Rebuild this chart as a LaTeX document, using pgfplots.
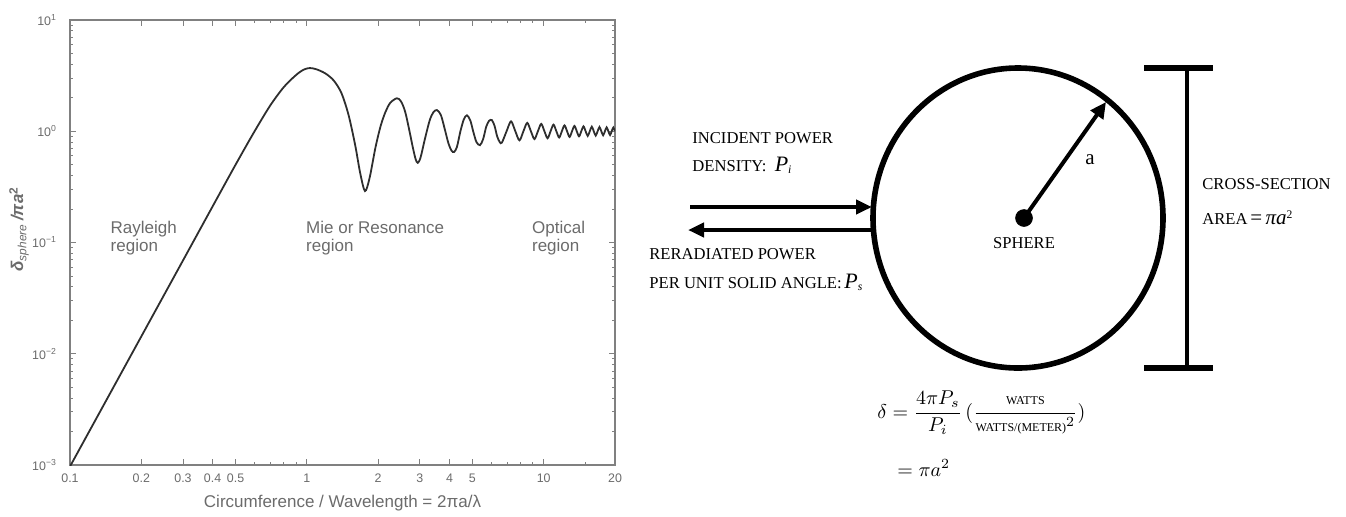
\documentclass[border=0pt]{standalone}
\usepackage{fontspec}
\usepackage{amsmath}
\usepackage{pgfplots}
\pgfplotsset{compat=1.18}
\usetikzlibrary{arrows.meta}
\setmainfont{Liberation Serif}
\newfontfamily\plotfont{Liberation Sans}
\definecolor{plotgray}{gray}{0.42}
\definecolor{framegray}{gray}{0.5}
\definecolor{curvegray}{gray}{0.18}

\pgfplotstableread{
ka sigma
0.1 0.00097
0.2 0.0143
0.3 0.069
0.4 0.211
0.5 0.50
0.6 0.99
0.7 1.70
0.8 2.5
0.9 3.2
0.97 3.58
1.03 3.7
1.1 3.6
1.2 3.3
1.3 2.85
1.4 2.2
1.5 1.4
1.6 0.75
1.68 0.42
1.76 0.29
1.84 0.38
1.95 0.72
2.05 1.12
2.15 1.5
2.25 1.8
2.4 1.98
2.5 1.85
2.6 1.5
2.7 1.05
2.8 0.72
2.88 0.56
2.94 0.52
3.02 0.58
3.15 0.85
3.3 1.25
3.42 1.48
3.54 1.55
3.68 1.4
3.82 1.05
3.96 0.78
4.08 0.67
4.18 0.65
4.3 0.72
4.45 1.0
4.6 1.28
4.74 1.39
4.9 1.25
5.05 0.98
5.2 0.8
5.38 0.75
5.55 0.85
5.72 1.1
5.88 1.24
6.04 1.26
6.2 1.12
6.36 0.9
6.52 0.8
6.66 0.79
6.97 1.0
7.28 1.227
7.59 1.0
7.90 0.828
8.21 1.0
8.52 1.19
8.83 1.0
9.14 0.85
9.45 1.0
9.76 1.165
10.07 1.0
10.38 0.865
10.69 1.0
11.0 1.146
11.31 1.0
11.62 0.879
11.93 1.0
12.24 1.13
12.55 1.0
12.86 0.889
13.17 1.0
13.48 1.117
13.79 1.0
14.10 0.90
14.41 1.0
14.72 1.107
15.03 1.0
15.34 0.908
15.65 1.0
15.96 1.099
16.27 1.0
16.58 0.914
16.89 1.0
17.2 1.091
17.51 1.0
17.82 0.92
18.13 1.0
18.44 1.084
18.75 1.0
19.06 0.925
19.37 1.0
19.68 1.079
20.0 1.0
}\rcsdata

\begin{document}
\begin{tikzpicture}
% ---------------- left: log-log plot ----------------
\begin{axis}[
  at={(35pt,25.5pt)}, anchor=south west,
  scale only axis, width=272.5pt, height=222.5pt,
  xmode=log, ymode=log,
  xmin=0.1, xmax=20, ymin=1e-3, ymax=10,
  axis line style={framegray, line width=0.6pt},
  every tick/.style={framegray, line width=0.45pt},
  major tick length=3pt, minor tick length=1.7pt,
  tick align=inside,
  xtick={0.1,0.2,0.3,0.4,0.5,1,2,3,4,5,10,20},
  xticklabels={0.1,0.2,0.3,0.4,0.5,1,2,3,4,5,10,20},
  minor xtick={0.6,0.7,0.8,0.9,6,7,8,9,15},
  ytick={0.001,0.01,0.1,1,10},
  yticklabels={10\textsuperscript{−3},10\textsuperscript{−2},10\textsuperscript{−1},10\textsuperscript{0},10\textsuperscript{1}},
  minor ytick={0.002,0.003,0.004,0.005,0.006,0.007,0.008,0.009,
               0.02,0.03,0.04,0.05,0.06,0.07,0.08,0.09,
               0.2,0.3,0.4,0.5,0.6,0.7,0.8,0.9,
               2,3,4,5,6,7,8,9},
  tick label style={font=\plotfont\fontsize{6.2}{7}\selectfont, text=plotgray},
  yticklabel style={xshift=-3pt},
  xticklabel style={yshift=-1pt},
  xlabel={Circumference / Wavelength = 2πa/λ},
  every axis x label/.style={at={(axis description cs:0.5,0)}, yshift=-19pt, anchor=center,
     font=\plotfont\fontsize{8.5}{10}\selectfont, text=plotgray},
  ylabel={\textbf{\textit{δ}}\textsubscript{\textit{sphere}}\,\textbf{\textit{/πa}}\textsuperscript{\textbf{2}}},
  every axis y label/.style={at={(axis description cs:0,0.53)}, xshift=-25.5pt, rotate=90, anchor=center,
     font=\plotfont\fontsize{8.5}{10}\selectfont, text=plotgray},
]
\addplot[curvegray, line width=0.9pt, smooth] table[x=ka, y=sigma] {\rcsdata};
\node[anchor=west, align=left, inner sep=0pt, font=\plotfont\fontsize{8.5}{9}\selectfont, text=plotgray]
  at (axis cs:0.148,0.11) {Rayleigh\\region};
\node[anchor=west, align=left, inner sep=0pt, font=\plotfont\fontsize{8.5}{9}\selectfont, text=plotgray]
  at (axis cs:0.99,0.11) {Mie or Resonance\\region};
\node[anchor=west, align=left, inner sep=0pt, font=\plotfont\fontsize{8.5}{9}\selectfont, text=plotgray]
  at (axis cs:8.9,0.11) {Optical\\region};
\end{axis}

% ---------------- right: sphere diagram (pixel units) ----------------
\begin{axis}[
  at={(0pt,0pt)}, anchor=south west,
  scale only axis, width=673pt, height=258pt,
  xmin=0, xmax=1346, ymin=0, ymax=516, y dir=reverse,
  hide axis, clip=false,
]
% sphere outline
\draw[black, line width=2.8pt] (axis cs:1018,218) ellipse [x radius=145, y radius=150];
% centre dot
\addplot[only marks, mark=*, mark size=4.2pt, black] coordinates {(1024,218)};
% radius arrow
\addplot[black, line width=2pt, -{Triangle[length=8pt,width=7.5pt]}] coordinates {(1024,218) (1106,102)};
\node[anchor=base, font=\fontsize{10.5}{12}\selectfont] at (axis cs:1090,164) {a};
\node[anchor=base, font=\fontsize{8.3}{10}\selectfont] at (axis cs:1024,248) {SPHERE};
% incident / reradiated arrows
\addplot[black, line width=2pt, -{Triangle[length=8pt,width=7pt]}] coordinates {(690,207) (872,207)};
\addplot[black, line width=2pt, -{Triangle[length=8pt,width=7pt]}] coordinates {(873,230) (688,230)};
% I-beam
\addplot[black, line width=1.8pt] coordinates {(1187,68) (1187,368)};
\addplot[black, line width=3pt] coordinates {(1144,68) (1213,68)};
\addplot[black, line width=3pt] coordinates {(1144,368) (1213,368)};
% texts
\node[anchor=base west, font=\fontsize{8.3}{10}\selectfont, inner sep=0pt] at (axis cs:692,143) {INCIDENT POWER};
\node[anchor=base west, font=\fontsize{8.3}{10}\selectfont, inner sep=0pt] at (axis cs:692,171)
  {DENSITY:\ \ {\fontsize{11}{12}\selectfont\textit{P}}\textsubscript{\textit{i}}};
\node[anchor=base west, font=\fontsize{8.3}{10}\selectfont, inner sep=0pt] at (axis cs:649,259) {RERADIATED POWER};
\node[anchor=base west, font=\fontsize{8.3}{10}\selectfont, inner sep=0pt] at (axis cs:649,288)
  {PER UNIT SOLID ANGLE:\,{\fontsize{11}{12}\selectfont\textit{P}}\textsubscript{\textit{s}}};
\node[anchor=base west, font=\fontsize{8.3}{10}\selectfont, inner sep=0pt] at (axis cs:1202,189) {CROSS-SECTION};
\node[anchor=base west, font=\fontsize{8.3}{10}\selectfont, inner sep=0pt] at (axis cs:1202,224)
  {AREA\,{\fontsize{10.5}{12}\selectfont=\,\textit{πa}}\textsuperscript{2}};
% formula
\node[anchor=west, inner sep=0pt, font=\fontsize{10}{12}\selectfont] at (axis cs:877,413)
  {$\delta = \dfrac{4\pi P_s}{P_i}\,(\dfrac{\text{\fontsize{6}{7}\selectfont WATTS}}{\text{\fontsize{6}{7}\selectfont WATTS/(METER)}^{2}})$};
\node[anchor=west, inner sep=0pt, font=\fontsize{10}{12}\selectfont] at (axis cs:897,468)
  {$= \pi a^2$};
\end{axis}
\pgfresetboundingbox
\path[use as bounding box] (0pt,0pt) rectangle (673pt,258pt);
\end{tikzpicture}
\end{document}
